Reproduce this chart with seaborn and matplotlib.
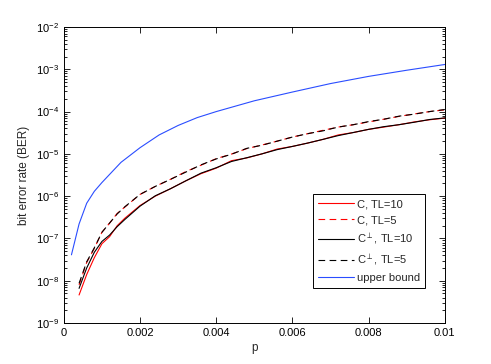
import numpy as np
import pandas as pd
import seaborn as sns
import matplotlib
matplotlib.use("Agg")
import matplotlib.pyplot as plt
from matplotlib.ticker import FixedLocator, LogFormatterSciNotation, NullFormatter

# simulated curves share one p grid
p_sim = [0.0004, 0.0006, 0.0008, 0.0010, 0.0012, 0.0014, 0.0016, 0.0020, 0.0024,
         0.0028, 0.0032, 0.0036, 0.0040, 0.0044, 0.0048, 0.0052, 0.0056, 0.0060,
         0.0064, 0.0068, 0.0072, 0.0076, 0.0080, 0.0084, 0.0088, 0.0092, 0.0096,
         0.0100]

ber_c_tl10 = [4.6e-9, 1.4e-8, 3.5e-8, 7.5e-8, 1.1e-7, 2.0e-7, 3.0e-7, 6.0e-7, 1.0e-6,
              1.5e-6, 2.3e-6, 3.4e-6, 4.6e-6, 6.9e-6, 8.0e-6, 1.0e-5, 1.3e-5, 1.5e-5,
              1.8e-5, 2.2e-5, 2.8e-5, 3.2e-5, 3.8e-5, 4.3e-5, 4.9e-5, 5.7e-5, 6.4e-5,
              7.0e-5]
ber_c_tl5 = [8.0e-9, 2.7e-8, 5.8e-8, 1.4e-7, 2.3e-7, 3.9e-7, 5.5e-7, 1.1e-6, 1.7e-6,
             2.5e-6, 3.8e-6, 5.4e-6, 7.7e-6, 9.9e-6, 1.33e-5, 1.62e-5, 2.0e-5, 2.5e-5,
             3.0e-5, 3.6e-5, 4.3e-5, 4.9e-5, 5.7e-5, 6.6e-5, 7.7e-5, 8.8e-5, 1.0e-4,
             1.1e-4]
ber_cp_tl10 = [6.6e-9, 2.0e-8, 4.7e-8, 8.5e-8, 1.2e-7, 1.9e-7, 2.8e-7, 5.8e-7, 1.02e-6,
               1.5e-6, 2.3e-6, 3.5e-6, 4.7e-6, 6.6e-6, 8.1e-6, 1.0e-5, 1.26e-5, 1.5e-5,
               1.8e-5, 2.2e-5, 2.7e-5, 3.2e-5, 3.8e-5, 4.4e-5, 4.9e-5, 5.6e-5, 6.5e-5,
               7.1e-5]
ber_cp_tl5 = [8.7e-9, 2.8e-8, 6.0e-8, 1.4e-7, 2.3e-7, 3.8e-7, 5.6e-7, 1.1e-6, 1.7e-6,
              2.5e-6, 3.7e-6, 5.5e-6, 7.6e-6, 9.8e-6, 1.35e-5, 1.6e-5, 2.0e-5, 2.5e-5,
              3.0e-5, 3.5e-5, 4.3e-5, 4.9e-5, 5.8e-5, 6.6e-5, 7.8e-5, 8.7e-5, 1.0e-4,
              1.12e-4]

p_bound = [0.0002, 0.0004, 0.0006, 0.0008, 0.0010, 0.0015, 0.0020, 0.0025, 0.0030,
           0.0035, 0.0040, 0.0050, 0.0060, 0.0070, 0.0080, 0.0090, 0.0100]
ber_bound = [4.1e-8, 2.2e-7, 6.8e-7, 1.3e-6, 2.1e-6, 6.3e-6, 1.4e-5, 2.8e-5, 4.7e-5,
             7.2e-5, 1.0e-4, 1.8e-4, 2.9e-4, 4.6e-4, 6.8e-4, 9.5e-4, 1.3e-3]

x_ticks = [0, 0.002, 0.004, 0.006, 0.008, 0.01]
x_labels = ["0", "0.002", "0.004", "0.006", "0.008", "0.01"]
y_decades = list(range(-9, -1))

series = [
    ("C, TL=10", p_sim, ber_c_tl10, "red", "-"),
    ("C, TL=5", p_sim, ber_c_tl5, "red", (0, (6, 4))),
    (r"C$^{\perp}$, TL=10", p_sim, ber_cp_tl10, "black", "-"),
    (r"C$^{\perp}$, TL=5", p_sim, ber_cp_tl5, "black", (0, (6, 4))),
    ("upper bound", p_bound, ber_bound, "#2a4dff", "-"),
]

sns.set_style("ticks")
plt.rcParams["font.family"] = ["Liberation Sans", "DejaVu Sans"]
plt.rcParams["xtick.direction"] = "in"
plt.rcParams["ytick.direction"] = "in"

fig = plt.figure(figsize=(4.91, 3.64), dpi=100)
ax = fig.add_axes([0.130, 0.1126, 0.776, 0.8132])

for label, px, py, color, ls in series:
    df = pd.DataFrame({"p": px, "ber": py})
    sns.lineplot(data=df, x="p", y="ber", ax=ax, color=color, linestyle=ls,
                 linewidth=0.8, label=label)

ax.set_yscale("log")
ax.set_xlim(0, 0.01)
ax.set_ylim(1e-9, 1e-2)
ax.xaxis.set_major_locator(FixedLocator(x_ticks))
ax.set_xticklabels(x_labels)
ax.yaxis.set_major_locator(FixedLocator([10.0 ** d for d in y_decades]))
ax.yaxis.set_major_formatter(LogFormatterSciNotation())
minors = [m * 10.0 ** d for d in y_decades[:-1] for m in range(2, 10)]
ax.yaxis.set_minor_locator(FixedLocator(minors))
ax.yaxis.set_minor_formatter(NullFormatter())
ax.tick_params(axis="both", which="both", top=True, right=True, labelsize=8,
               width=0.6, colors="black")
ax.tick_params(which="major", length=4)
ax.tick_params(which="minor", length=2)
for s in ax.spines.values():
    s.set_linewidth(0.7)
    s.set_color("black")

ax.set_xlabel("p", fontsize=8.5, labelpad=3)
ax.set_ylabel("bit error rate (BER)", fontsize=8.5, labelpad=4)

leg = ax.legend(loc="lower right", bbox_to_anchor=(0.948, 0.118), borderaxespad=0,
                fontsize=8, frameon=True, fancybox=False, framealpha=1,
                handlelength=3.2, handletextpad=0.3, labelspacing=0.55,
                borderpad=0.45)
leg.get_frame().set_edgecolor("black")
leg.get_frame().set_linewidth(0.7)

fig.savefig("out.png", dpi=100)
